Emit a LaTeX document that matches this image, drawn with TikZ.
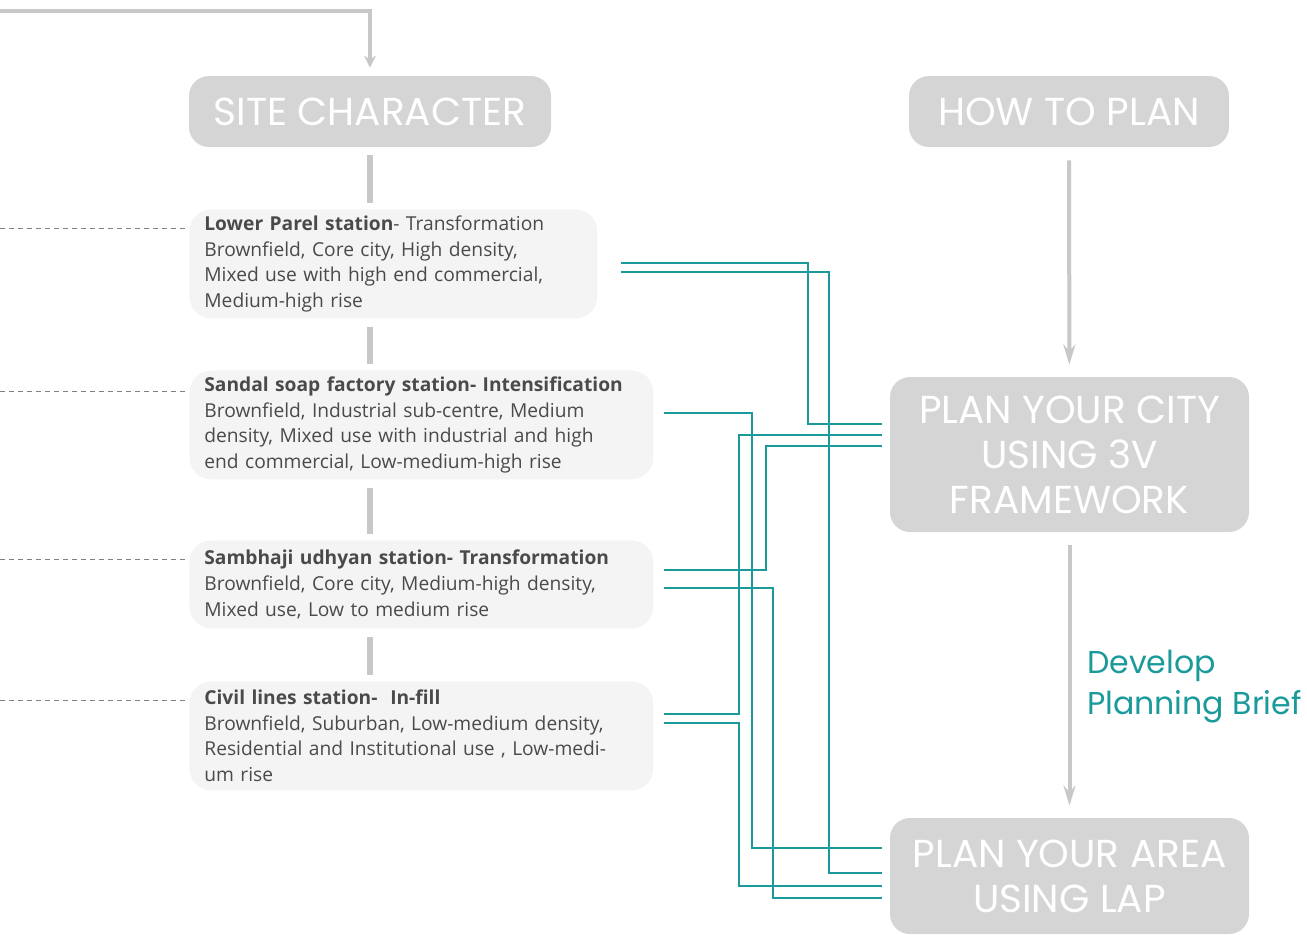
\documentclass[tikz,border=0pt]{standalone}
\usepackage{fontspec}
\setmainfont{Open Sans}
\newfontfamily\headfont{Poppins}
\usepackage{xcolor}
\usetikzlibrary{positioning, arrows.meta, calc}

\definecolor{headgray}{HTML}{D5D5D5}
\definecolor{cardgray}{HTML}{F4F4F4}
\definecolor{stemgray}{HTML}{C8C8C8}
\definecolor{bodytext}{HTML}{4A4A4A}
\definecolor{tealline}{HTML}{1B9A9B}

\begin{document}
\begin{tikzpicture}[
    x=0.5pt, y=-0.5pt,
    >=stealth,
    headbox/.style={rectangle, fill=headgray, rounded corners=10pt, text=white, font=\headfont\fontsize{19.5}{22.5}\selectfont, align=center, inner sep=0pt},
    card/.style={rectangle, fill=cardgray, rounded corners=11pt, text=bodytext, font=\fontsize{9.6}{12.8}\selectfont, align=left, anchor=north west, inner xsep=7.5pt, inner ysep=0pt, minimum height=54.5pt},
    stem/.style={stemgray, line width=3pt},
    flow/.style={stemgray, line width=2pt, -{Stealth[length=10pt, width=6pt]}},
    link/.style={tealline, line width=1pt},
    guide/.style={gray, thin, dash pattern=on 2.5pt off 2pt},
    brief/.style={text=tealline, font=\headfont\fontsize{15.8}{20.5}\selectfont, align=left, anchor=west},
]
\useasboundingbox (0,0) rectangle (1307,934);

% Left column: site character and stations
\node[headbox, minimum width=181pt, minimum height=35.5pt] (site) at (370,111.5) {SITE CHARACTER};
\node[card, text width=189pt] (lp) at (189,209) {\textbf{Lower Parel station}- Transformation\\Brownfield, Core city, High density,\\Mixed use with high end commercial,\\Medium-high rise};
\node[card, text width=217pt] (ss) at (189,370) {\textbf{Sandal soap factory station- Intensification}\\Brownfield, Industrial sub-centre, Medium\\density, Mixed use with industrial and high\\end commercial, Low-medium-high rise};
\node[card, text width=217pt, minimum height=44pt] (su) at (189,540) {\textbf{Sambhaji udhyan station- Transformation}\\Brownfield, Core city, Medium-high density,\\Mixed use, Low to medium rise};
\node[card, text width=217pt] (cl) at (189,681) {\textbf{Civil lines station-\ \ In-fill}\\Brownfield, Suburban, Low-medium density,\\Residential and Institutional use , Low-medi-\\um rise};

% Right column: planning steps
\node[headbox, minimum width=160pt, minimum height=35.5pt] (how) at (1069,111.5) {HOW TO PLAN};
\node[headbox, minimum width=179.5pt, minimum height=77.5pt] (city) at (1069.5,454.5) {PLAN YOUR CITY\\USING 3V\\FRAMEWORK};
\node[headbox, minimum width=179.5pt, minimum height=58pt] (area) at (1069.5,876) {PLAN YOUR AREA\\USING LAP};
\node[brief] (dev) at (1080,687) {Develop\\Planning Brief};

% Free ends
\coordinate (top) at (0,11);
\coordinate (d1) at (0,228);
\coordinate (d2) at (0,391);
\coordinate (d3) at (0,559);
\coordinate (d4) at (0,700);

% Link ends (stations -> planning steps)
\coordinate (lpA) at (621,263);
\coordinate (lpB) at (621,272);
\coordinate (ssA) at (664,413);
\coordinate (suA) at (664,570);
\coordinate (suB) at (664,588);
\coordinate (clA) at (664,714);
\coordinate (clB) at (664,723);
\coordinate (cityA) at (882,424);
\coordinate (cityB) at (882,435);
\coordinate (cityC) at (882,446);
\coordinate (areaA) at (882,848);
\coordinate (areaB) at (882,873);
\coordinate (areaC) at (882,886);
\coordinate (areaD) at (882,898);

% Gray arrows
\draw[flow, line width=2pt, -{Stealth[length=6pt, width=6pt]}, shorten >=4pt] (top) -| (site.north);
\draw[flow, shorten <=6.5pt, shorten >=6pt] (how) -- (city);
\draw[flow, shorten <=6.5pt, shorten >=6pt] (city) -- (area);

% Stems between stations
\foreach \a/\b in {site/lp, lp/ss, ss/su, su/cl} {
    \draw[stem, shorten <=4pt, shorten >=3pt] (\a.south -| site.south) -- (\b.north -| site.south);
}

% Dashed guides
\foreach \d/\b in {d1/lp, d2/ss, d3/su, d4/cl} {
    \draw[guide, shorten >=2pt] (\d) -- (\b.west |- \d);
}

% Teal links
\foreach \a/\x/\b in {lpA/808/cityA, lpB/829/areaB, ssA/752/areaA, clA/739/cityB, clB/739/areaC, suA/766/cityC, suB/773/areaD} {
    \draw[link] (\a) -| (\x,0 |- \b) -- (\b);
}

\end{tikzpicture}
\end{document}
